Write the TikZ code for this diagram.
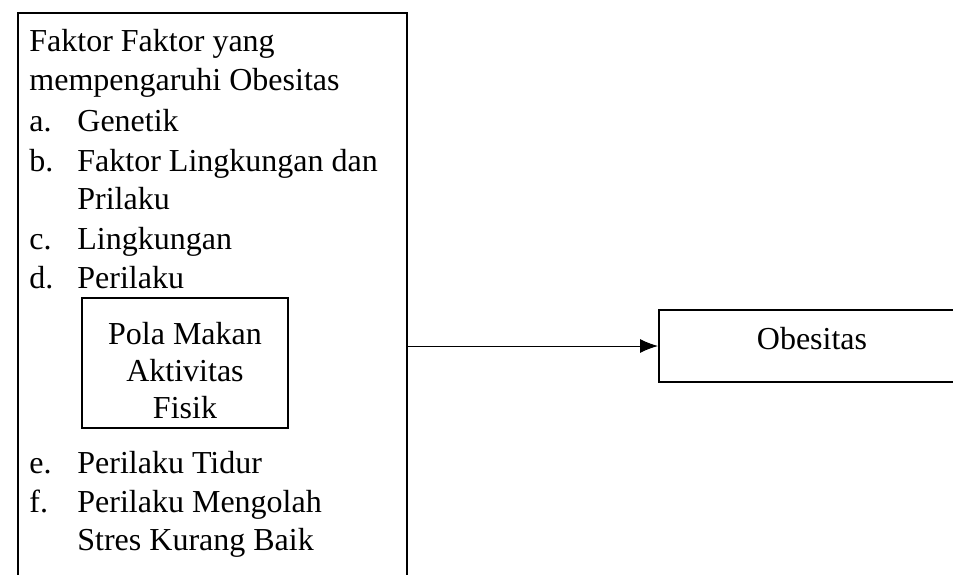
\documentclass[tikz,border=0pt]{standalone}
\usepackage{fontspec}
\setmainfont{Liberation Serif}
\usetikzlibrary{positioning}
\usetikzlibrary{arrows.meta}
\tikzset{
	kotak/.style={draw, rectangle, line width=1pt, inner sep=0pt},
	% teks daftar, diletakkan pada garis dasar
	teks/.style={anchor=base west, inner sep=0pt, font=\fontsize{16}{19.5}\selectfont},
	isi/.style={anchor=north, inner sep=0pt, align=center, font=\fontsize{16}{18.5}\selectfont},
}

\begin{document}
\begin{tikzpicture}[x=0.5pt, y=-0.5pt]
	\useasboundingbox (0,0) rectangle (953,574);
	\clip (0,0) rectangle (953,574);
	
	\node (faktor) [kotak, anchor=north west, minimum width=194.5pt, minimum height=350pt] at (17,12) {};
	
	\node (judul1) [teks] at (29,51) {Faktor Faktor yang};
	\node (judul2) [teks] at (29,90) {mempengaruhi Obesitas};
	
	\node (la) [teks] at (29,131) {a.};
	\node (ta) [teks] at (77,131) {Genetik};
	\node (lb) [teks] at (29,171) {b.};
	\node (tb) [teks] at (77,171) {Faktor Lingkungan dan};
	\node (tb2) [teks] at (77,209) {Prilaku};
	\node (lc) [teks] at (29,249) {c.};
	\node (tc) [teks] at (77,249) {Lingkungan};
	\node (ld) [teks] at (29,288) {d.};
	\node (td) [teks] at (77,288) {Perilaku};
	
	\node (pola) [kotak, minimum width=103pt, minimum height=65pt] at (185,363) {};
	\node (polateks) [isi] at (185,322) {Pola Makan\\Aktivitas\\Fisik};
	
	\node (le) [teks] at (29,473) {e.};
	\node (te) [teks] at (77,473) {Perilaku Tidur};
	\node (lf) [teks] at (29,512) {f.};
	\node (tf) [teks] at (77,512) {Perilaku Mengolah};
	\node (tf2) [teks] at (77,550) {Stres Kurang Baik};
	
	\node (obesitas) [kotak, minimum width=153pt, minimum height=36pt, text height=11pt, text depth=8pt,
		font=\fontsize{16}{19.5}\selectfont] at (812,346) {Obesitas};
	
	\begin{scope}[line width=0.5pt, -{Latex[length=9pt, width=7pt]}]
		\draw (faktor.east |- obesitas.west) -- (obesitas.west);
	\end{scope}
\end{tikzpicture}
\end{document}
